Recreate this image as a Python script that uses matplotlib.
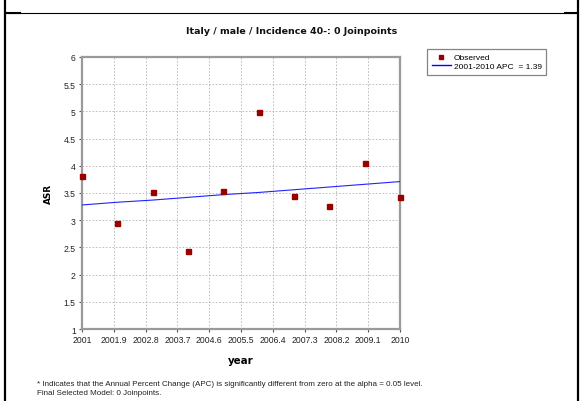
import matplotlib
matplotlib.use("Agg")
import matplotlib.pyplot as plt
from matplotlib.lines import Line2D

# ---- data ----
years = [2001, 2002, 2003, 2004, 2005, 2006, 2007, 2008, 2009, 2010]
observed = [3.81, 2.94, 3.52, 2.43, 3.54, 4.98, 3.45, 3.27, 4.05, 3.42]
fitted = [3.28, 3.33, 3.37, 3.42, 3.47, 3.51, 3.56, 3.61, 3.66, 3.71]
xticks = [2001, 2001.9, 2002.8, 2003.7, 2004.6, 2005.5, 2006.4, 2007.3, 2008.2, 2009.1, 2010]
xtick_labels = ["2001", "2001.9", "2002.8", "2003.7", "2004.6", "2005.5", "2006.4",
                "2007.3", "2008.2", "2009.1", "2010"]
yticks = [1, 1.5, 2, 2.5, 3, 3.5, 4, 4.5, 5, 5.5, 6]
ytick_labels = ["1", "1.5", "2", "2.5", "3", "3.5", "4", "4.5", "5", "5.5", "6"]
title = "Italy / male / Incidence 40-: 0 Joinpoints"
legend_labels = ["Observed", "2001-2010 APC  = 1.39"]
footnote1 = "* Indicates that the Annual Percent Change (APC) is significantly different from zero at the alpha = 0.05 level."
footnote2 = "Final Selected Model: 0 Joinpoints."

W, H = 581, 402
fig = plt.figure(figsize=(W / 100, H / 100), dpi=100)
fig.patch.set_facecolor("white")

def fx(px):
    return px / W

def fy(py):
    return 1 - py / H

# outer frame lines
fig.add_artist(Line2D([fx(5), fx(5)], [0, 1], color="black", lw=1.6))
fig.add_artist(Line2D([fx(577.5), fx(577.5)], [0, 1], color="black", lw=1.6))
fig.add_artist(Line2D([fx(6), fx(577)], [fy(13.5), fy(13.5)], color="black", lw=0.8))
fig.add_artist(Line2D([fx(6), fx(20)], [fy(14), fy(14)], color="black", lw=1.5))
fig.add_artist(Line2D([fx(565), fx(577)], [fy(14), fy(14)], color="black", lw=1.5))

L, R, T, B = 82, 400, 58, 330
ax = fig.add_axes([fx(L), fy(B), fx(R - L), (B - T) / H])

ax.plot(years, fitted, color="#2222ff", lw=0.8, zorder=3, label=legend_labels[1])
ax.plot(years, observed, linestyle="none", marker="s", markersize=3.6,
        color="#990000", zorder=4, clip_on=False, label=legend_labels[0])

ax.set_xlim(2001, 2010)
ax.set_ylim(1, 6)
ax.set_xticks(xticks)
ax.set_xticklabels(xtick_labels)
ax.set_yticks(yticks)
ax.set_yticklabels(ytick_labels)
for lab in ax.get_xticklabels() + ax.get_yticklabels():
    lab.set_fontfamily("Liberation Sans")
    lab.set_fontsize(6.2)
    lab.set_color("#222222")
ax.tick_params(axis="both", length=2.5, width=0.8, color="#555555", pad=2)

ax.grid(True, color="#b5b5b5", linestyle=(0, (2, 2)), linewidth=0.6)
for s in ax.spines.values():
    s.set_color("#9a9a9a")
    s.set_linewidth(1.6)

ax.set_xlabel("year", fontsize=7.4, fontweight="bold", family="DejaVu Sans", labelpad=8)
ax.set_ylabel("ASR", fontsize=6.4, fontweight="bold", family="DejaVu Sans", labelpad=8)

fig.text(fx(292), fy(31), title, ha="center", va="center", fontsize=6.8,
         fontweight="bold", family="DejaVu Sans", color="#111111")

handles = [Line2D([], [], linestyle="none", marker="s", markersize=2.6, color="#990000"),
           Line2D([], [], color="#0000ff", lw=1.0)]
leg = fig.legend(handles, legend_labels, loc="upper left",
                 bbox_to_anchor=(fx(427), fy(50)), bbox_transform=fig.transFigure,
                 prop=dict(family="Liberation Sans", size=6.0), frameon=True,
                 fancybox=False, borderpad=0.55, handlelength=2.3, handletextpad=0.35,
                 labelspacing=0.1, borderaxespad=0)
leg.get_frame().set_edgecolor("#666666")
leg.get_frame().set_linewidth(0.9)
leg._legend_box.align = "left"

fig.text(fx(37), fy(385), footnote1, ha="left", va="center", fontsize=5.8,
         family="Liberation Sans", color="#222222")
fig.text(fx(37), fy(394), footnote2, ha="left", va="center", fontsize=5.8,
         family="Liberation Sans", color="#222222")

fig.canvas.draw()
# widen legend frame to match reference box (427..548)
fig.savefig("out.png", dpi=100)
